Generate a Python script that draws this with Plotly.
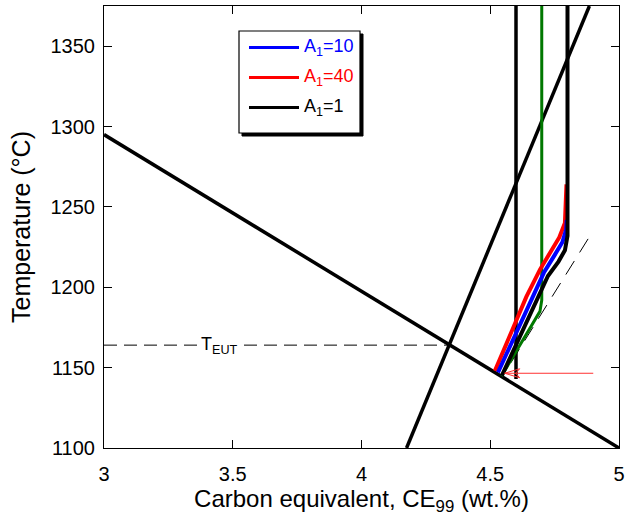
import plotly.graph_objects as go

# ---- data -----------------------------------------------------------------
# Solidification paths (carbon equivalent, temperature)
a10_ce = [4.530, 4.585, 4.656, 4.708, 4.750, 4.780, 4.795, 4.797]
a10_t = [1147, 1166, 1192, 1209, 1220, 1228, 1236, 1242]

a40_ce = [4.518, 4.570, 4.640, 4.693, 4.735, 4.768, 4.790, 4.796]
a40_t = [1148, 1168, 1194, 1211, 1222, 1231, 1240, 1264]

a1_ce = [4.545, 4.600, 4.672, 4.724, 4.765, 4.790, 4.800, 4.800]
a1_t = [1145, 1164, 1190, 1207, 1216, 1223, 1232, 1375]

green_ce = [4.544, 4.600, 4.654, 4.675, 4.693, 4.700, 4.700]
green_t = [1144.8, 1160, 1174.5, 1179.5, 1185, 1192, 1375]

vert46_ce = [4.6, 4.6]
vert46_t = [1143, 1375]

# Liquidus lines
aust_liq_ce = [3.0, 5.0]
aust_liq_t = [1295, 1100]
graph_liq_ce = [4.175, 4.885]
graph_liq_t = [1100, 1375]

# Thin dashed extension
ext_ce = [4.58, 4.899]
ext_t = [1153, 1235]

# Eutectic temperature
t_eut = 1164
t_eut_ce = [3.0, 4.34]

# Red arrow
arrow_ce = [4.90, 4.556]
arrow_t = 1146.5

x_range = [3, 5]
y_range = [1100, 1375]
x_ticks = [3, 3.5, 4, 4.5, 5]
y_ticks = [1100, 1150, 1200, 1250, 1300, 1350]

legend_labels = ["A<sub>1</sub>=10", "A<sub>1</sub>=40", "A<sub>1</sub>=1"]
legend_colors = ["#0000ff", "#ff0000", "#000000"]

# ---- figure ----------------------------------------------------------------
W, H = 625, 523
ML, MR, MT, MB = 104, 6, 6, 75
pw, ph = W - ML - MR, H - MT - MB
px_x = pw / (x_range[1] - x_range[0])
px_y = ph / (y_range[1] - y_range[0])

fig = go.Figure()


def line(x, y, color, width, dash="solid"):
    fig.add_trace(go.Scatter(x=x, y=y, mode="lines", showlegend=False,
                             line=dict(color=color, width=width, dash=dash),
                             hoverinfo="skip", cliponaxis=True))


line(aust_liq_ce, aust_liq_t, "black", 3.5)
line(graph_liq_ce, graph_liq_t, "black", 3.5)
line(t_eut_ce, [t_eut, t_eut], "black", 1, "13px,7px")
line(ext_ce, ext_t, "black", 1, "16px,10px")
line(vert46_ce, vert46_t, "black", 3.5)
line(green_ce, green_t, "#007800", 3)
line(a40_ce, a40_t, "#ff0000", 4)
line(a10_ce, a10_t, "#0000ff", 4)
line(a1_ce, a1_t, "black", 4)

# Red arrow with an open head
line(arrow_ce, [arrow_t, arrow_t], "#ff3030", 1)
tip = arrow_ce[1]
hl, hw, notch = 15 / px_x, 4.5 / px_y, 4 / px_x
line([tip, tip + hl, tip + hl - notch, tip + hl, tip],
     [arrow_t, arrow_t + hw, arrow_t, arrow_t - hw, arrow_t], "#ff3030", 1)

font = "Arial, Liberation Sans, sans-serif"

fig.add_annotation(x=3.36, y=t_eut, xref="x", yref="y", xanchor="left",
                   yanchor="middle", showarrow=False,
                   text="T<sub>EUT</sub>", font=dict(family=font, size=18, color="black"),
                   bgcolor="white", borderpad=3)


# Legend box with drop shadow
def px2paper(x, y):
    return (x - ML) / pw, 1 - (y - MT) / ph


bx0, by0 = px2paper(239, 31)
bx1, by1 = px2paper(360, 133)
sx0, sy0 = px2paper(242, 34)
sx1, sy1 = px2paper(363, 136)
fig.add_shape(type="rect", xref="paper", yref="paper", x0=sx0, y0=sy1, x1=sx1, y1=sy0,
              fillcolor="black", line=dict(color="black", width=1), layer="above")
fig.add_shape(type="rect", xref="paper", yref="paper", x0=bx0, y0=by1, x1=bx1, y1=by0,
              fillcolor="white", line=dict(color="black", width=1.2), layer="above")

row_y = [47.5, 77.5, 107.5]
for lab, col, ry in zip(legend_labels, legend_colors, row_y):
    lx0, ly = px2paper(249, ry)
    lx1, _ = px2paper(299, ry)
    tx, _ = px2paper(302, ry)
    fig.add_shape(type="line", xref="paper", yref="paper", x0=lx0, x1=lx1, y0=ly, y1=ly,
                  line=dict(color=col, width=3), layer="above")
    fig.add_annotation(x=tx, y=ly, xref="paper", yref="paper", xanchor="left",
                       yanchor="middle", showarrow=False, text=lab,
                       font=dict(family=font, size=18, color=col))

axis_common = dict(showgrid=False, zeroline=False, showline=True, linecolor="black",
                   linewidth=1, mirror="ticks", ticks="inside", ticklen=8,
                   tickcolor="black", tickwidth=1, automargin=False,
                   tickfont=dict(family=font, size=20, color="black"))

fig.update_xaxes(range=x_range, tickvals=x_ticks, ticklabelstandoff=8, **axis_common,
                 title=dict(text="Carbon equivalent, CE<sub>99</sub> (wt.%)",
                            font=dict(family=font, size=24, color="black"), standoff=6))
fig.update_yaxes(range=y_range, tickvals=y_ticks, ticklabelstandoff=4, **axis_common,
                 title=dict(text="Temperature (°C)",
                            font=dict(family=font, size=25, color="black"), standoff=12))

fig.update_layout(width=W, height=H, margin=dict(l=ML, r=MR, t=MT, b=MB, pad=0),
                  plot_bgcolor="white", paper_bgcolor="white", showlegend=False)

fig.write_html("out.html")
